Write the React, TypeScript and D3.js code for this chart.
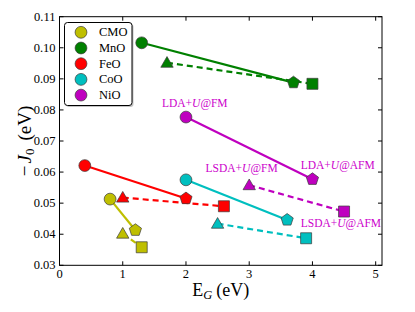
import React from "react";
import * as d3 from "d3";

const W = 415;
const H = 312;

// Materials (legend order)
const materials = ["CMO", "MnO", "FeO", "CoO", "NiO"];
const colors = ["#bfbf00", "#008000", "#ff0000", "#00bfbf", "#bf00bf"];

// Energy gaps E_G (eV) and -J0 (eV) for the four methods
// LDA+U@FM (circle), LDA+U@AFM (pentagon), LSDA+U@FM (triangle), LSDA+U@AFM (square)
const ldaFmX = [0.8, 1.3, 0.4, 2.0, 2.0];
const ldaFmY = [0.0513, 0.1016, 0.0621, 0.0575, 0.0777];
const ldaAfmX = [1.2, 3.7, 2.0, 3.6, 4.0];
const ldaAfmY = [0.0413, 0.0888, 0.0515, 0.0446, 0.0577];
const lsdaFmX = [1.0, 1.7, 1.0, 2.5, 3.0];
const lsdaFmY = [0.0402, 0.0952, 0.0518, 0.0434, 0.0558];
const lsdaAfmX = [1.3, 4.0, 2.6, 3.9, 4.5];
const lsdaAfmY = [0.0358, 0.0884, 0.049, 0.0387, 0.0473];

const xTicks = [0, 1, 2, 3, 4, 5];
const yTicks = [0.03, 0.04, 0.05, 0.06, 0.07, 0.08, 0.09, 0.1, 0.11];

const annTexts = ["LDA+", "LSDA+", "LDA+", "LSDA+"];
const annSuffix = ["@FM", "@FM", "@AFM", "@AFM"];
const annX = [1.62, 2.31, 3.815, 3.815];
const annY = [0.0811, 0.0601, 0.061, 0.0423];

const FONT = "'Liberation Serif', 'Times New Roman', serif";
const EDGE = "#3a3a3a";

function pentagonPath(r: number) {
  const pts: string[] = [];
  for (let i = 0; i < 5; i++) {
    const a = -Math.PI / 2 + (i * 2 * Math.PI) / 5;
    pts.push(`${(r * Math.cos(a)).toFixed(2)},${(r * Math.sin(a)).toFixed(2)}`);
  }
  return "M" + pts.join("L") + "Z";
}

export default function App() {
  const left = 59.5;
  const right = 382;
  const top = 16.7;
  const bottom = 265.3;

  const x = d3.scaleLinear().domain([0, 5.1]).range([left, right]);
  const y = d3.scaleLinear().domain([0.03, 0.11]).range([bottom, top]);

  const line = d3
    .line<[number, number]>()
    .x((d) => x(d[0]))
    .y((d) => y(d[1]));

  const circle = d3.symbol(d3.symbolCircle, 110)();
  const square = d3.symbol(d3.symbolSquare, 121)();
  const triangle = d3.symbol(d3.symbolTriangle, 66)();
  const pentagon = pentagonPath(6.4);

  const tickLen = 4;

  return (
    <svg
      width={W}
      height={H}
      style={{ position: "fixed", left: 0, top: 0, background: "#fff" }}
      fontFamily={FONT}
    >
      <rect x={0} y={0} width={W} height={H} fill="#fff" />
      {/* lines */}
      {materials.map((m, i) => (
        <g key={"l" + m}>
          <path
            d={line([
              [ldaFmX[i], ldaFmY[i]],
              [ldaAfmX[i], ldaAfmY[i]],
            ])!}
            stroke={colors[i]}
            strokeWidth={2.2}
            fill="none"
          />
          <path
            d={line([
              [lsdaFmX[i], lsdaFmY[i]],
              [lsdaAfmX[i], lsdaAfmY[i]],
            ])!}
            stroke={colors[i]}
            strokeWidth={2.2}
            strokeDasharray="6,4"
            fill="none"
          />
        </g>
      ))}
      {/* markers */}
      {materials.map((m, i) => (
        <g key={"m" + m} fill={colors[i]} stroke={EDGE} strokeWidth={0.7}>
          <path d={circle!} transform={`translate(${x(ldaFmX[i])},${y(ldaFmY[i])})`} />
          <path d={pentagon} transform={`translate(${x(ldaAfmX[i])},${y(ldaAfmY[i])})`} />
          <path d={triangle!} transform={`translate(${x(lsdaFmX[i])},${y(lsdaFmY[i]) + 1})`} />
          <path d={square!} transform={`translate(${x(lsdaAfmX[i])},${y(lsdaAfmY[i])})`} />
        </g>
      ))}
      {/* annotations */}
      {annTexts.map((t, i) => (
        <text key={"a" + i} x={x(annX[i])} y={y(annY[i])} fontSize={11.5} fill="#cc00cc">
          {t}
          <tspan fontStyle="italic">U</tspan>
          {annSuffix[i]}
        </text>
      ))}
      {/* frame */}
      <rect x={left} y={top} width={right - left} height={bottom - top} fill="none" stroke="#000" strokeWidth={1} />
      {/* x ticks */}
      {xTicks.map((t) => (
        <g key={"x" + t}>
          <line x1={x(t)} x2={x(t)} y1={bottom} y2={bottom - tickLen} stroke="#000" />
          <line x1={x(t)} x2={x(t)} y1={top} y2={top + tickLen} stroke="#000" />
          <text x={x(t)} y={bottom + 13} fontSize={12.5} textAnchor="middle" fill="#000">
            {t}
          </text>
        </g>
      ))}
      {/* y ticks */}
      {yTicks.map((t) => (
        <g key={"y" + t}>
          <line x1={left} x2={left + tickLen} y1={y(t)} y2={y(t)} stroke="#000" />
          <line x1={right} x2={right - tickLen} y1={y(t)} y2={y(t)} stroke="#000" />
          <text x={left - 4} y={y(t) + 4} fontSize={12.5} textAnchor="end" fill="#000">
            {d3.format(".2f")(t)}
          </text>
        </g>
      ))}
      {/* axis labels */}
      <text x={(left + right) / 2} y={296} fontSize={18} textAnchor="middle" fill="#000">
        E<tspan fontSize={12.5} dy={3} fontStyle="italic">G</tspan>
        <tspan dy={-3} dx={4}>(eV)</tspan>
      </text>
      <text
        transform={`translate(31,${(top + bottom) / 2}) rotate(-90)`}
        fontSize={19}
        textAnchor="middle"
        fill="#000"
      >
        −<tspan dx={2} fontStyle="italic">J</tspan>
        <tspan fontSize={13} dy={3}>0</tspan>
        <tspan dy={-3} dx={8}>(eV)</tspan>
      </text>
      {/* legend */}
      <rect x={66} y={24} width={67.5} height={83} rx={3} fill="#888" opacity={0.5} />
      <rect x={64.5} y={22.5} width={67.5} height={83} rx={3} fill="#fff" stroke="#000" strokeWidth={1} />
      {materials.map((m, i) => (
        <g key={"lg" + m}>
          <path
            d={circle!}
            transform={`translate(81,${32.3 + i * 15.7})`}
            fill={colors[i]}
            stroke={EDGE}
            strokeWidth={0.7}
          />
          <text x={99} y={32.3 + i * 15.7 + 4} fontSize={12.5} fill="#000">
            {m}
          </text>
        </g>
      ))}
    </svg>
  );
}
